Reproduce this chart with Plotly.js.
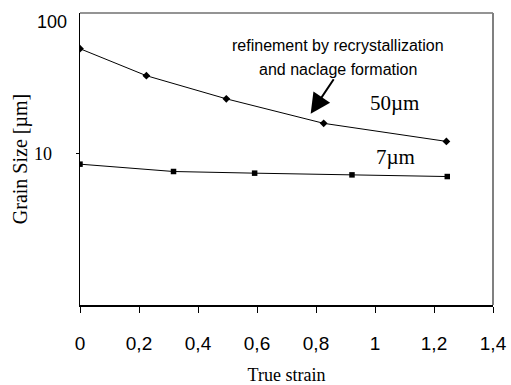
<!DOCTYPE html>
<html>
<head>
<meta charset="utf-8">
<script src="https://cdn.plot.ly/plotly-3.0.1.min.js"></script>
<style>html,body{margin:0;padding:0;background:#fff;}#chart{width:511px;height:385px;}</style>
</head>
<body>
<div id="chart"></div>
<script>
// Series: 50 µm initial grain size
const strain50 = [0, 0.225, 0.496, 0.826, 1.242];
const grain50 = [55.7, 35.8, 24.5, 16.4, 12.2];
// Series: 7 µm initial grain size
const strain7 = [0, 0.317, 0.592, 0.922, 1.245];
const grain7 = [8.4, 7.45, 7.25, 7.05, 6.86];

const xTickVals = [0, 0.2, 0.4, 0.6, 0.8, 1, 1.2, 1.4];
const xTickText = ['0', '0,2', '0,4', '0,6', '0,8', '1', '1,2', '1,4'];
const yTickVals = [10, 100];
const yTickText = ['10', '100'];

const serif = 'Liberation Serif, Times New Roman, serif';
const sans = 'Liberation Sans, Arial, sans-serif';

const traces = [
  {x: strain50, y: grain50, mode: 'lines+markers', type: 'scatter',
   line: {color: '#000', width: 1}, marker: {symbol: 'diamond', size: 6, color: '#000'}},
  {x: strain7, y: grain7, mode: 'lines+markers', type: 'scatter',
   line: {color: '#000', width: 1}, marker: {symbol: 'square', size: 5.5, color: '#000'}}
];

const layout = {
  width: 511, height: 385,
  margin: {l: 80, r: 18, t: 13, b: 80},
  paper_bgcolor: '#fff', plot_bgcolor: '#fff',
  showlegend: false,
  xaxis: {
    range: [0, 1.4], tickvals: xTickVals, ticktext: xTickText,
    ticks: 'outside', ticklen: 6, tickcolor: '#000', tickwidth: 1,
    ticklabelstandoff: 15,
    showline: true, linecolor: '#000', linewidth: 1.5, showgrid: false, zeroline: false,
    tickfont: {family: sans, size: 19, color: '#000'},
    title: {text: 'True strain', font: {family: serif, size: 18, color: '#000'}, standoff: 18}
  },
  yaxis: {
    type: 'log', range: [Math.log10(0.836), 2],
    tickvals: [yTickVals[0]], ticktext: [yTickText[0]],
    ticks: 'outside', ticklen: 3, tickcolor: '#000', tickwidth: 1,
    ticklabelstandoff: 20,
    showline: true, linecolor: '#000', linewidth: 1.5, showgrid: false, zeroline: false,
    tickfont: {family: serif, size: 18, color: '#000'},
    title: {text: 'Grain Size [µm]', font: {family: serif, size: 20, color: '#000'}, standoff: 1}
  },
  shapes: [
    {type: 'line', xref: 'paper', yref: 'paper', x0: 0, x1: 1, y0: 1, y1: 1, line: {color: '#707070', width: 1.5}},
    {type: 'line', xref: 'paper', yref: 'paper', x0: 1, x1: 1, y0: 0, y1: 1, line: {color: '#808080', width: 2}}
  ],
  annotations: [
    {xref: 'paper', yref: 'y', x: 0, y: Math.log10(yTickVals[1]), text: yTickText[1], showarrow: false,
     xanchor: 'right', yanchor: 'middle', xshift: -11, yshift: -9, font: {family: sans, size: 18, color: '#000'}},
    {xref: 'paper', yref: 'paper', x: 0.625, y: 0.890, xanchor: 'center', yanchor: 'middle',
     text: 'refinement by recrystallization', showarrow: false,
     font: {family: sans, size: 16, color: '#000'}},
    {xref: 'paper', yref: 'paper', x: 0.625, y: 0.808, xanchor: 'center', yanchor: 'middle',
     text: 'and naclage formation', showarrow: false,
     font: {family: sans, size: 16, color: '#000'}},
    {xref: 'paper', yref: 'paper', x: 0.762, y: 0.693, xanchor: 'center', yanchor: 'middle',
     text: '50µm', showarrow: false,
     font: {family: serif, size: 21, color: '#000'}},
    {xref: 'paper', yref: 'paper', x: 0.764, y: 0.508, xanchor: 'center', yanchor: 'middle',
     text: '7µm', showarrow: false,
     font: {family: serif, size: 21, color: '#000'}},
    {xref: 'x', yref: 'y', x: 0.782, y: Math.log10(19.2), text: '', showarrow: true,
     ax: 24, ay: -36, arrowhead: 2, arrowsize: 2.0, arrowwidth: 2, arrowcolor: '#000', standoff: 0}
  ]
};

Plotly.newPlot('chart', traces, layout, {displayModeBar: false, staticPlot: true});
</script>
</body>
</html>
